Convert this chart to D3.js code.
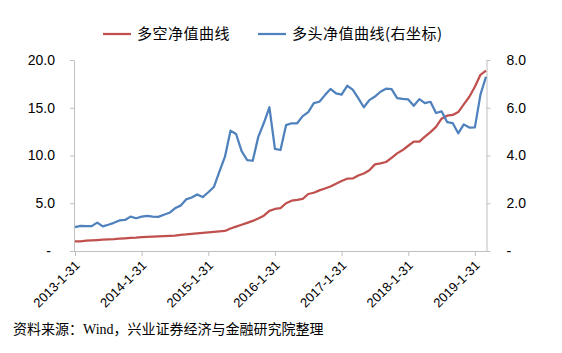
<!DOCTYPE html>
<html lang="zh">
<head>
<meta charset="UTF-8"/>
<title>多空净值曲线</title>
<script src="https://d3js.org/d3.v7.min.js"></script>
<style>
	body { margin: 0; background-color: #ffffff; }
	svg text { font-family: "Liberation Sans", Arial, sans-serif; fill: #000; }
</style>
</head>
<body>
<script>
	// monthly net value, 2013-1-31 .. 2019-3-31
	var longShort = [1.00, 1.02, 1.08, 1.12, 1.15, 1.18, 1.22, 1.25, 1.30, 1.33, 1.37, 1.40,
					 1.45, 1.47, 1.50, 1.52, 1.55, 1.58, 1.62, 1.68, 1.73, 1.80, 1.85, 1.90,
					 1.95, 2.00, 2.05, 2.10, 2.35, 2.55, 2.75, 2.95, 3.15, 3.40, 3.70, 4.20,
					 4.40, 4.50, 5.00, 5.27, 5.35, 5.45, 5.97, 6.10, 6.35, 6.55, 6.75, 7.05,
					 7.33, 7.57, 7.60, 7.90, 8.12, 8.45, 9.07, 9.17, 9.32, 9.76, 10.22, 10.57,
					 11.02, 11.45, 11.45, 11.97, 12.45, 13.00, 13.85, 14.17, 14.25, 14.55, 15.35, 16.15,
					 17.20, 18.45, 18.88];
	var longOnly = [1.00, 1.05, 1.04, 1.04, 1.19, 1.03, 1.10, 1.18, 1.28, 1.30, 1.44, 1.37,
					1.44, 1.47, 1.44, 1.43, 1.52, 1.60, 1.79, 1.90, 2.16, 2.24, 2.37, 2.26,
					2.46, 2.68, 3.32, 3.95, 5.04, 4.90, 4.18, 3.81, 3.78, 4.78, 5.36, 6.02,
					4.28, 4.23, 5.27, 5.35, 5.35, 5.65, 5.82, 6.19, 6.25, 6.53, 6.79, 6.60,
					6.55, 6.92, 6.76, 6.40, 6.02, 6.32, 6.47, 6.67, 6.80, 6.78, 6.40, 6.37,
					6.35, 6.08, 6.36, 6.19, 6.25, 5.78, 5.85, 5.40, 5.36, 4.93, 5.30, 5.17,
					5.18, 6.55, 7.30];
	var yearTicks = [0, 12, 24, 36, 48, 60, 72];
	var yearLabels = ["2013-1-31", "2014-1-31", "2015-1-31", "2016-1-31", "2017-1-31", "2018-1-31", "2019-1-31"];
	var leftTicks = [0, 5, 10, 15, 20];
	var rightTicks = [0, 2, 4, 6, 8];
	var legendNames = ["多空净值曲线", "多头净值曲线(右坐标)"];
	var sourceNote = "资料来源：Wind，兴业证券经济与金融研究院整理";

	var w = 562;
	var h = 353;
	var red = "#C0504D";
	var blue = "#4F81BD";
	var axisGrey = "#BFBFBF";

	var svg = d3.select("body")
				.append("svg")
				.attr("width", w)
				.attr("height", h);

	var xScale = d3.scaleLinear()
					.domain([0, longShort.length - 1])
					.range([75, 486]);
	var yLeft = d3.scaleLinear().domain([0, 20]).range([251, 60]);
	var yRight = d3.scaleLinear().domain([0, 8]).range([251, 60]);

	function styleAxis(g) {
		g.attr("font-family", null).attr("font-size", null);
		g.selectAll("path, line").attr("stroke", axisGrey);
		g.selectAll("text").style("font-size", "14px");
	}

	// bottom axis
	var xAxis = svg.append("g")
					.attr("transform", "translate(0,251)")
					.call(d3.axisBottom(xScale)
						.tickValues(yearTicks)
						.tickSize(5)
						.tickSizeOuter(0)
						.tickFormat(function(d, i) { return yearLabels[i]; }));
	styleAxis(xAxis);
	xAxis.select(".domain").attr("d", "M70,0.5H487");
	xAxis.selectAll("text")
		.style("font-size", "13px")
		.attr("x", 0)
		.attr("y", 0)
		.attr("dy", "0.35em")
		.attr("text-anchor", "end")
		.attr("transform", "translate(2,12) rotate(-45)");

	// left axis
	var leftAxis = svg.append("g")
					.attr("transform", "translate(74,0)")
					.call(d3.axisLeft(yLeft)
						.tickValues(leftTicks)
						.tickSize(4)
						.tickSizeOuter(0)
						.tickPadding(15)
						.tickFormat(function(d) { return d === 0 ? "-" : d3.format(".1f")(d); }));
	styleAxis(leftAxis);
	leftAxis.selectAll("text").filter(function(d) { return d === 0; }).attr("dx", "-4");

	// right axis
	var rightAxis = svg.append("g")
					.attr("transform", "translate(486.5,0)")
					.call(d3.axisRight(yRight)
						.tickValues(rightTicks)
						.tickSize(4)
						.tickSizeOuter(0)
						.tickPadding(16)
						.tickFormat(function(d) { return d === 0 ? "-" : d3.format(".1f")(d); }));
	styleAxis(rightAxis);

	// lines
	var redLine = d3.line()
					.x(function(d, i) { return xScale(i); })
					.y(function(d) { return yLeft(d); });
	var blueLine = d3.line()
					.x(function(d, i) { return xScale(i); })
					.y(function(d) { return yRight(d); });

	svg.append("path")
		.datum(longShort)
		.attr("fill", "none")
		.attr("stroke", red)
		.attr("stroke-width", 2.25)
		.attr("stroke-linejoin", "round")
		.attr("d", redLine);

	svg.append("path")
		.datum(longOnly)
		.attr("fill", "none")
		.attr("stroke", blue)
		.attr("stroke-width", 2.25)
		.attr("stroke-linejoin", "round")
		.attr("d", blueLine);

	// legend
	var legendX = [103, 258];
	var legend = svg.selectAll(".legend")
					.data(legendNames)
					.enter()
					.append("g")
					.attr("class", "legend")
					.attr("transform", function(d, i) { return "translate(" + legendX[i] + ",34)"; });
	legend.append("line")
		.attr("x1", 0).attr("x2", 28)
		.attr("y1", 0).attr("y2", 0)
		.attr("stroke-width", 2.25)
		.attr("stroke", function(d, i) { return i === 0 ? red : blue; });
	legend.append("text")
		.attr("x", 34)
		.attr("dy", "0.35em")
		.style("font-family", "'Noto Sans CJK SC', sans-serif")
		.style("font-size", "15px")
		.style("letter-spacing", "0.5px")
		.text(function(d) { return d; });

	// source
	svg.append("text")
		.attr("x", 13)
		.attr("y", 334)
		.style("font-family", "'Liberation Serif', 'Noto Sans CJK SC', serif")
		.style("font-size", "14px")
		.text(sourceNote);
</script>
</body>
</html>
